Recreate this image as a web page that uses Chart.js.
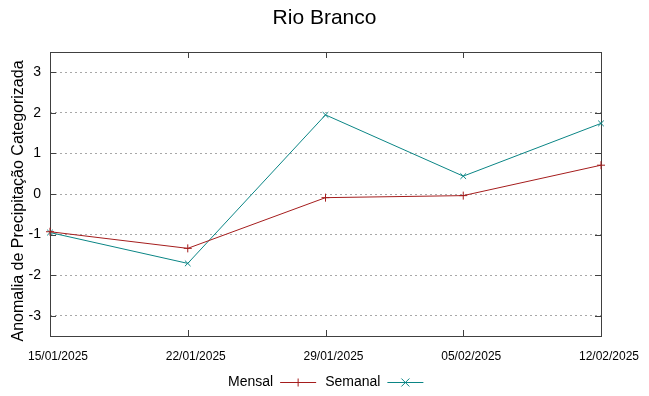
<!DOCTYPE html>
<html><head><meta charset="utf-8">
<script src="https://cdn.jsdelivr.net/npm/chart.js@4/dist/chart.umd.min.js"></script>
<style>html,body{margin:0;padding:0;background:#fff}#wrap{width:649px;height:396px}</style>
</head><body><div id="wrap"><canvas id="c" width="649" height="396"></canvas></div>
<script>
const dates = ['15/01/2025','22/01/2025','29/01/2025','05/02/2025','12/02/2025'];
const mensal = [-0.93, -1.34, -0.09, -0.04, 0.71];
const semanal = [-0.95, -1.71, 1.95, 0.44, 1.74];
const yTicks = [-3, -2, -1, 0, 1, 2, 3];
const titleText = 'Rio Branco';
const yTitle = 'Anomalia de Precipitação Categorizada';
const seriesNames = ['Mensal', 'Semanal'];

const FONT = "'Liberation Sans', Arial, sans-serif";
const RED = '#a51d1d';
const TEAL = '#0a8585';

function drawMarker(ctx, style, x, y, r) {
  ctx.beginPath();
  if (style === 'cross') {
    ctx.moveTo(x - r, y); ctx.lineTo(x + r, y);
    ctx.moveTo(x, y - r); ctx.lineTo(x, y + r);
  } else {
    ctx.moveTo(x - r, y - r); ctx.lineTo(x + r, y + r);
    ctx.moveTo(x - r, y + r); ctx.lineTo(x + r, y - r);
  }
  ctx.stroke();
}

const framePlugin = {
  id: 'frame',
  beforeDatasetsDraw(chart) {
    const {ctx, chartArea: a, scales} = chart;
    ctx.save();
    ctx.strokeStyle = '#404040';
    ctx.lineWidth = 1;
    ctx.strokeRect(Math.round(a.left) + 0.5, Math.round(a.top) + 0.5, Math.round(a.right - a.left), Math.round(a.bottom - a.top));
    const L = 6;
    ctx.beginPath();
    yTicks.forEach(v => {
      const y = Math.round(scales.y.getPixelForValue(v)) + 0.5;
      ctx.moveTo(a.left, y); ctx.lineTo(a.left + L, y);
      ctx.moveTo(a.right, y); ctx.lineTo(a.right - L, y);
    });
    dates.forEach((d, i) => {
      const x = Math.round(scales.x.getPixelForValue(i)) + 0.5;
      ctx.moveTo(x, a.bottom); ctx.lineTo(x, a.bottom - L);
      ctx.moveTo(x, a.top); ctx.lineTo(x, a.top + L);
    });
    ctx.stroke();
    ctx.restore();
  },
  afterDraw(chart) {
    const {ctx} = chart;
    ctx.save();
    // title
    ctx.font = '21px ' + FONT;
    ctx.fillStyle = '#000';
    ctx.textAlign = 'center';
    ctx.textBaseline = 'middle';
    ctx.fillText(titleText, chart.width / 2, 18);
    // y axis title
    ctx.save();
    ctx.font = '16px ' + FONT;
    ctx.translate(18.5, 201);
    ctx.rotate(-Math.PI / 2);
    ctx.fillText(yTitle, 0, 0);
    ctx.restore();
    // legend
    ctx.font = '14px ' + FONT;
    ctx.textAlign = 'left';
    let x = 228;
    const y = 382;
    chart.data.datasets.forEach(ds => {
      ctx.fillText(ds.label, x, y);
      x += ctx.measureText(ds.label).width + 7;
      ctx.strokeStyle = ds.borderColor;
      ctx.lineWidth = 1;
      ctx.beginPath();
      ctx.moveTo(x, y + 0.5); ctx.lineTo(x + 36, y + 0.5);
      ctx.stroke();
      drawMarker(ctx, ds.pointStyle, x + 18, y + 0.5, 4);
      x += 36 + 9;
    });
    ctx.restore();
  }
};

new Chart(document.getElementById('c'), {
  type: 'line',
  data: {
    labels: dates,
    datasets: [
      { label: seriesNames[0], data: mensal, borderColor: RED, backgroundColor: RED,
        borderWidth: 1, pointStyle: 'cross', pointRadius: 4, pointBorderWidth: 1,
        pointBorderColor: RED, tension: 0, clip: false, fill: false },
      { label: seriesNames[1], data: semanal, borderColor: TEAL, backgroundColor: TEAL,
        borderWidth: 1, pointStyle: 'crossRot', pointRadius: 4, pointBorderWidth: 1,
        pointBorderColor: TEAL, tension: 0, clip: false, fill: false }
    ]
  },
  options: {
    responsive: false,
    animation: false,
    devicePixelRatio: 1,
    layout: { padding: { top: 52, left: 0, right: 48, bottom: 0 } },
    plugins: {
      legend: { display: false },
      tooltip: { enabled: false },
      title: { display: false }
    },
    scales: {
      x: {
        type: 'category', offset: false,
        grid: { display: false, drawTicks: false },
        border: { display: false },
        ticks: { color: '#000', font: { family: FONT, size: 12 }, padding: 13, labelOffset: 8, maxRotation: 0, autoSkip: false },
        afterFit(s) { s.height = 60; }
      },
      y: {
        min: -3.5, max: 3.5,
        afterBuildTicks(s) { s.ticks = yTicks.map(v => ({ value: v })); },
        ticks: { color: '#000', font: { family: FONT, size: 14 }, padding: 9 },
        grid: { color: '#a8a8a8', lineWidth: 1, drawTicks: false },
        border: { display: false, dash: [2, 3] },
        title: { display: false },
        afterFit(s) { s.width = 50; }
      }
    }
  },
  plugins: [framePlugin]
});
</script>
</body></html>
